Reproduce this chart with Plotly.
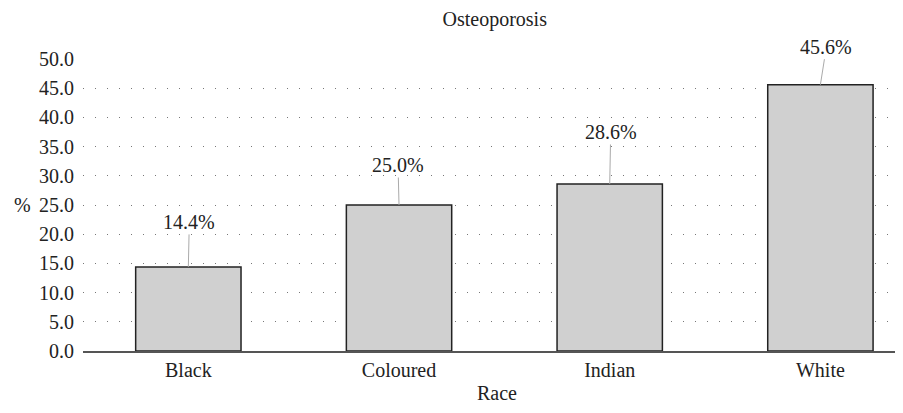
import plotly.graph_objects as go

categories = ["Black", "Coloured", "Indian", "White"]
values = [14.4, 25.0, 28.6, 45.6]
labels = ["14.4%", "25.0%", "28.6%", "45.6%"]
y_ticks = [0, 5, 10, 15, 20, 25, 30, 35, 40, 45, 50]

# label offsets in pixels (text centre relative to bar top)
label_dx = [1, -1, 1, 6]
label_dy = [-45, -40, -52, -38]

FONT = "Liberation Serif"
TXT = "#222222"

fig = go.Figure()
fig.add_trace(go.Bar(
    x=categories, y=values, width=0.5,
    marker=dict(color="#d0d0d0", line=dict(color="#222222", width=1.5)),
    showlegend=False, hoverinfo="skip",
))

for c, v, t, dx, dy in zip(categories, values, labels, label_dx, label_dy):
    fig.add_annotation(
        x=c, y=v, xref="x", yref="y", text=t,
        showarrow=True, arrowhead=0, arrowwidth=1, arrowcolor="#aaaaaa",
        ax=dx, ay=dy, standoff=0, startstandoff=0,
        font=dict(family=FONT, size=20, color=TXT),
    )

# page body has an 8px offset, margins compensate for it
fig.update_layout(
    width=903, height=413,
    margin=dict(l=75, r=0, t=51, b=70, autoexpand=False),
    paper_bgcolor="white", plot_bgcolor="white",
    font=dict(family=FONT, size=20, color=TXT),
    title=dict(text="Osteoporosis", x=0.539, xanchor="center", y=0.973, yanchor="middle",
               font=dict(family=FONT, size=20, color=TXT)),
    xaxis=dict(
        range=[-0.5, 3.43], showgrid=False, showline=True, linecolor="#555555", linewidth=1.5,
        ticks="", automargin=False, tickfont=dict(family=FONT, size=20, color=TXT),
        title=dict(text="Race", standoff=6, font=dict(family=FONT, size=20, color=TXT)),
    ),
    yaxis=dict(
        range=[0, 50], tickvals=y_ticks, ticktext=[f"{v:.1f}" for v in y_ticks],
        showgrid=True, gridcolor="#777777", gridwidth=1, griddash="1px,11px",
        zeroline=False, showline=False, ticks="", automargin=False,
        ticklabelstandoff=8,
        tickfont=dict(family=FONT, size=20, color=TXT),
    ),
    bargap=0.5,
)

fig.add_annotation(
    x=(13 - 83) / 820, y=(351 - 205) / 292, xref="paper", yref="paper", text="%",
    showarrow=False, xanchor="left", yanchor="middle",
    font=dict(family=FONT, size=20, color=TXT),
)

fig.write_html("out.html")
